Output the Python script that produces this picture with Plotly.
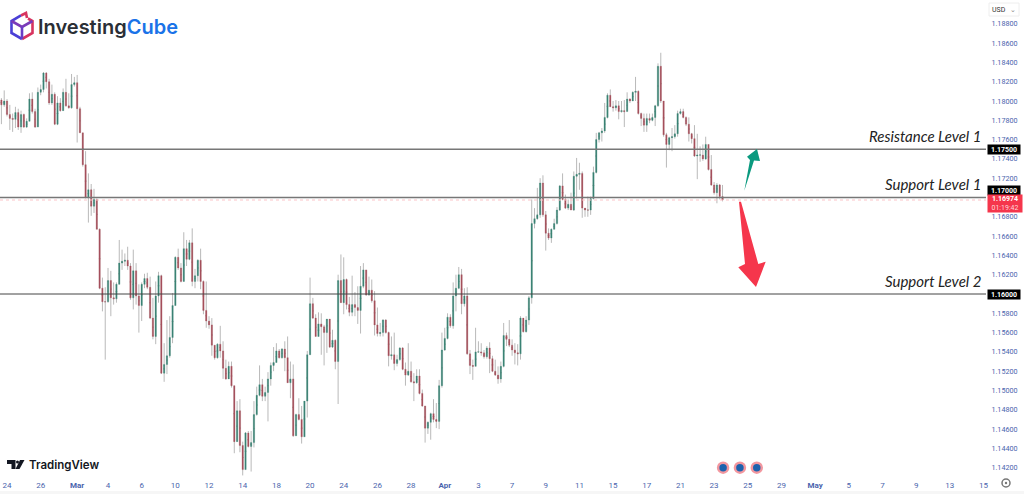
import plotly.graph_objects as go

# 4-hour EUR/USD candles (open of a bar = close of the one before, bodies connect)
first_open = 1.1801
closes = [1.1796,1.1800,1.1786,1.1782,1.1781,1.1788,1.1773,1.1786,1.1773,1.1779,1.1802,1.1789,1.1773,1.1809,1.1812,1.1829,1.1820,1.1798,1.1807,1.1776,
1.1798,1.1790,1.1809,1.1795,1.1793,1.1817,1.1819,1.1792,1.1767,1.1734,1.1700,1.1708,1.1691,1.1698,1.1667,1.1606,1.1592,1.1592,1.1614,1.1596,
1.1595,1.1610,1.1632,1.1634,1.1635,1.1629,1.1596,1.1624,1.1598,1.1588,1.1610,1.1616,1.1607,1.1575,1.1556,1.1598,1.1619,1.1518,1.1527,1.1536,
1.1555,1.1588,1.1638,1.1627,1.1613,1.1647,1.1636,1.1653,1.1613,1.1619,1.1635,1.1613,1.1583,1.1572,1.1568,1.1547,1.1534,1.1548,1.1541,1.1523,
1.1512,1.1525,1.1505,1.1447,1.1479,1.1443,1.1418,1.1456,1.1442,1.1446,1.1475,1.1495,1.1506,1.1494,1.1498,1.1512,1.1526,1.1529,1.1541,1.1534,
1.1543,1.1534,1.1508,1.1512,1.1453,1.1475,1.1470,1.1452,1.1489,1.1537,1.1590,1.1575,1.1556,1.1569,1.1566,1.1560,1.1574,1.1545,1.1552,1.1530,
1.1614,1.1591,1.1615,1.1589,1.1581,1.1589,1.1586,1.1583,1.1608,1.1625,1.1599,1.1604,1.1593,1.1568,1.1559,1.1560,1.1573,1.1560,1.1536,1.1537,
1.1528,1.1532,1.1544,1.1522,1.1516,1.1520,1.1509,1.1508,1.1515,1.1497,1.1484,1.1461,1.1467,1.1476,1.1470,1.1468,1.1505,1.1542,1.1554,1.1576,
1.1567,1.1598,1.1606,1.1620,1.1590,1.1598,1.1538,1.1526,1.1525,1.1540,1.1540,1.1539,1.1535,1.1544,1.1533,1.1520,1.1516,1.1512,1.1525,1.1557,
1.1553,1.1547,1.1542,1.1539,1.1538,1.1575,1.1561,1.1573,1.1596,1.1673,1.1678,1.1682,1.1715,1.1682,1.1663,1.1658,1.1667,1.1673,1.1687,1.1712,
1.1698,1.1689,1.1693,1.1687,1.1722,1.1724,1.1725,1.1689,1.1687,1.1687,1.1699,1.1726,1.1760,1.1767,1.1769,1.1783,1.1806,1.1794,1.1793,1.1795,
1.1789,1.1790,1.1789,1.1802,1.1800,1.1809,1.1810,1.1787,1.1782,1.1775,1.1782,1.1780,1.1783,1.1795,1.1836,1.1800,1.1765,1.1755,1.1762,1.1763,
1.1766,1.1787,1.1789,1.1783,1.1776,1.1766,1.1761,1.1743,1.1744,1.1744,1.1740,1.1755,1.1729,1.1713,1.1705,1.1713,1.1701,1.16974]
highs = [1.1803,1.1811,1.1802,1.1796,1.1787,1.1794,1.1792,1.1790,1.1787,1.1782,1.1808,1.1809,1.1792,1.1814,1.1817,1.1830,1.1830,1.1823,1.1817,1.1809,
1.1805,1.1803,1.1813,1.1823,1.1808,1.1828,1.1825,1.1827,1.1794,1.1767,1.1748,1.1725,1.1714,1.1709,1.1699,1.1668,1.1617,1.1607,1.1627,1.1624,
1.1612,1.1612,1.1656,1.1646,1.1642,1.1649,1.1632,1.1646,1.1632,1.1610,1.1612,1.1621,1.1622,1.1618,1.1596,1.1613,1.1623,1.1620,1.1549,1.1573,
1.1577,1.1601,1.1639,1.1647,1.1632,1.1664,1.1656,1.1656,1.1668,1.1626,1.1636,1.1647,1.1614,1.1613,1.1577,1.1575,1.1547,1.1549,1.1567,1.1551,
1.1532,1.1530,1.1530,1.1505,1.1489,1.1491,1.1447,1.1457,1.1458,1.1458,1.1489,1.1504,1.1526,1.1512,1.1504,1.1519,1.1529,1.1545,1.1549,1.1543,
1.1544,1.1551,1.1556,1.1530,1.1527,1.1476,1.1492,1.1484,1.1489,1.1541,1.1617,1.1596,1.1579,1.1581,1.1580,1.1568,1.1574,1.1574,1.1563,1.1553,
1.1620,1.1641,1.1638,1.1616,1.1597,1.1619,1.1602,1.1608,1.1629,1.1632,1.1625,1.1618,1.1615,1.1603,1.1586,1.1570,1.1574,1.1574,1.1561,1.1556,
1.1560,1.1537,1.1545,1.1545,1.1529,1.1549,1.1530,1.1518,1.1522,1.1522,1.1501,1.1484,1.1468,1.1477,1.1491,1.1487,1.1511,1.1560,1.1565,1.1580,
1.1579,1.1612,1.1620,1.1628,1.1626,1.1606,1.1607,1.1542,1.1532,1.1565,1.1551,1.1549,1.1542,1.1546,1.1550,1.1536,1.1532,1.1525,1.1530,1.1570,
1.1560,1.1573,1.1553,1.1549,1.1548,1.1577,1.1575,1.1577,1.1598,1.1698,1.1689,1.1710,1.1720,1.1723,1.1686,1.1668,1.1668,1.1678,1.1690,1.1713,
1.1725,1.1703,1.1698,1.1705,1.1727,1.1741,1.1736,1.1727,1.1689,1.1701,1.1701,1.1732,1.1767,1.1768,1.1772,1.1798,1.1808,1.1812,1.1800,1.1801,
1.1800,1.1800,1.1801,1.1809,1.1803,1.1810,1.1825,1.1811,1.1788,1.1787,1.1787,1.1787,1.1787,1.1796,1.1839,1.1850,1.1800,1.1767,1.1763,1.1772,
1.1775,1.1790,1.1792,1.1792,1.1784,1.1783,1.1767,1.1775,1.1766,1.1753,1.1755,1.1763,1.1755,1.1744,1.1716,1.1715,1.1714,1.1713]
lows = [1.1776,1.1794,1.1784,1.1770,1.1768,1.1772,1.1770,1.1767,1.1772,1.1772,1.1779,1.1787,1.1772,1.1774,1.1806,1.1809,1.1813,1.1796,1.1796,1.1775,
1.1775,1.1789,1.1790,1.1794,1.1792,1.1792,1.1815,1.1757,1.1767,1.1732,1.1699,1.1674,1.1681,1.1684,1.1667,1.1605,1.1582,1.1532,1.1591,1.1577,
1.1589,1.1591,1.1610,1.1625,1.1629,1.1625,1.1594,1.1584,1.1589,1.1560,1.1572,1.1606,1.1605,1.1574,1.1553,1.1548,1.1591,1.1517,1.1509,1.1517,
1.1534,1.1549,1.1588,1.1625,1.1612,1.1613,1.1629,1.1635,1.1608,1.1606,1.1613,1.1605,1.1579,1.1565,1.1564,1.1536,1.1532,1.1533,1.1534,1.1512,
1.1511,1.1512,1.1503,1.1435,1.1447,1.1436,1.1412,1.1418,1.1441,1.1416,1.1441,1.1474,1.1494,1.1489,1.1489,1.1468,1.1505,1.1520,1.1529,1.1533,
1.1533,1.1520,1.1508,1.1492,1.1452,1.1453,1.1469,1.1445,1.1452,1.1472,1.1537,1.1574,1.1556,1.1556,1.1537,1.1526,1.1539,1.1544,1.1544,1.1522,
1.1486,1.1591,1.1579,1.1584,1.1577,1.1577,1.1577,1.1569,1.1559,1.1606,1.1598,1.1598,1.1591,1.1557,1.1556,1.1556,1.1556,1.1559,1.1525,1.1532,
1.1521,1.1525,1.1531,1.1521,1.1505,1.1515,1.1508,1.1489,1.1507,1.1496,1.1483,1.1446,1.1455,1.1449,1.1467,1.1461,1.1460,1.1503,1.1541,1.1553,
1.1565,1.1564,1.1582,1.1605,1.1579,1.1587,1.1537,1.1517,1.1511,1.1525,1.1539,1.1536,1.1533,1.1533,1.1518,1.1519,1.1515,1.1507,1.1508,1.1524,
1.1546,1.1545,1.1536,1.1527,1.1526,1.1532,1.1560,1.1560,1.1568,1.1590,1.1668,1.1677,1.1679,1.1680,1.1645,1.1656,1.1653,1.1667,1.1672,1.1686,
1.1697,1.1688,1.1687,1.1687,1.1686,1.1699,1.1708,1.1679,1.1680,1.1680,1.1682,1.1698,1.1725,1.1757,1.1758,1.1767,1.1782,1.1794,1.1789,1.1790,
1.1781,1.1788,1.1773,1.1789,1.1798,1.1800,1.1800,1.1786,1.1774,1.1768,1.1768,1.1777,1.1779,1.1774,1.1794,1.1798,1.1763,1.1731,1.1749,1.1748,
1.1761,1.1763,1.1786,1.1782,1.1774,1.1758,1.1756,1.1742,1.1719,1.1737,1.1738,1.1739,1.1728,1.1712,1.1703,1.1694,1.1698,1.1696]
opens = [first_open] + closes[:-1]
bars = list(range(len(closes)))

price_ticks = [1.142,1.144,1.146,1.148,1.150,1.152,1.154,1.156,1.158,1.162,1.164,1.166,1.168,1.172,1.174,1.176,1.178,1.180,1.182,1.184,1.186,1.188]
date_labels = ["24","26","<b>Mar</b>","4","6","10","12","14","18","20","24","26","28","<b>Apr</b>","3","7","9","11","15","17","21","23","25","29","<b>May</b>","5","7","9","13","15"]
date_bars = [2,14,27,38,50,62,74,86,98,110,122,134,146,158,170,182,194,206,218,230,242,254,266,278,290,302,314,326,338,350]
levels = [1.175, 1.17, 1.16]
level_names = ["Resistance Level 1", "Support Level 1", "Support Level 2"]
level_tags = ["1.17500", "1.17000", "1.16000"]
tag_shifts = [0, 7.5, 0]
last_price = 1.16974
event_bars = [257.2, 263.2, 269.2]
event_prices = [1.1420, 1.1420, 1.1420]

W, H = 986.0, 476.0
def P(x, y):
    return x / W, 1 - y / H
def path(points):
    out = []
    for i, (x, y) in enumerate(points):
        a, b = P(x, y)
        out.append(("M" if i == 0 else "L") + f"{a:.5f},{b:.5f}")
    return " ".join(out) + " Z"
def poly(points, color):
    return dict(type="path", xref="paper", yref="paper", path=path(points), fillcolor=color, line=dict(width=0), layer="above")
def stroke(points, color, width=2.6):
    s = []
    for i, (x, y) in enumerate(points):
        a, b = P(x, y)
        s.append(("M" if i == 0 else "L") + f"{a:.5f},{b:.5f}")
    return dict(type="path", xref="paper", yref="paper", path=" ".join(s), line=dict(color=color, width=width), layer="above")

UP, DOWN, WICK = "#3b8375", "#a5505c", "#b9b9b9"
mids = [(o + c) / 2 for o, c in zip(opens, closes)]
fig = go.Figure()
fig.add_trace(go.Candlestick(x=bars, open=mids, high=highs, low=lows, close=mids, hoverinfo="skip", showlegend=False,
    increasing=dict(line=dict(color=WICK, width=1), fillcolor=WICK), decreasing=dict(line=dict(color=WICK, width=1), fillcolor=WICK)))
fig.add_trace(go.Candlestick(x=bars, open=opens, close=closes,
    high=[max(o, c) for o, c in zip(opens, closes)], low=[min(o, c) for o, c in zip(opens, closes)], hoverinfo="skip", showlegend=False,
    increasing=dict(line=dict(color=UP, width=0.3), fillcolor=UP), decreasing=dict(line=dict(color=DOWN, width=0.3), fillcolor=DOWN)))
fig.add_trace(go.Scatter(x=event_bars, y=event_prices, mode="markers", hoverinfo="skip", showlegend=False,
    marker=dict(size=10, color="#1d62ad", line=dict(color="#f2979f", width=2.5))))

shapes = []
for v, col, wid in zip(levels, ("#777777", "#777777", "#444444"), (1.5, 1.5, 1)):
    shapes.append(dict(type="line", xref="paper", yref="y", x0=0, x1=1, y0=v, y1=v, line=dict(color=col, width=wid), layer="above"))
shapes.append(dict(type="line", xref="paper", yref="y", x0=0, x1=1, y0=last_price, y1=last_price, line=dict(color="#fbc4c8", width=1, dash="dot")))
# drawn arrows
shapes.append(poly([(744.3,190.7),(750,160),(747,156.7),(757,149),(760,161),(754,160.5)], "#0a9a7f"))
shapes.append(poly([(739,201.7),(745,264),(738.3,267.3),(756,287),(765.7,261.7),(758.3,264),(741,201.7)], "#f5364c"))
# InvestingCube cube icon
shapes.append(stroke([(21,15.5),(11.5,21),(11.5,33),(22,39)], "#4a3fd6"))
shapes.append(stroke([(22,39),(32.5,33),(32.5,21),(28,18.5)], "#d8345f"))
shapes.append(stroke([(11.5,21),(22,27),(32.5,21)], "#7a3ab8"))
shapes.append(stroke([(22,27),(22,39)], "#6a3cc6"))
shapes.append(stroke([(21,15.5),(26,13),(27,18)], "#d8345f"))
# TradingView mark
shapes.append(poly([(7,460),(15.5,460),(15.5,469),(11.5,469),(11.5,464),(7,464)], "#131722"))
shapes.append(poly([(20,460),(24.5,460),(19.5,469),(15.5,469)], "#131722"))
shapes.append(dict(type="circle", xref="paper", yref="paper", x0=P(16,0)[0], x1=P(19,0)[0], y0=P(0,463.5)[1], y1=P(0,460.5)[1], fillcolor="#131722", line=dict(width=0), layer="above"))
# footer strip and settings icon
shapes.append(dict(type="rect", xref="paper", yref="paper", x0=0, x1=1024/W, y0=P(0,494)[1], y1=P(0,491)[1], fillcolor="#f6f6f6", line=dict(width=0)))
shapes.append(dict(type="circle", xref="paper", yref="paper", x0=P(1002,0)[0], x1=P(1010,0)[0], y0=P(0,487)[1], y1=P(0,479)[1], fillcolor="#ffffff", line=dict(color="#777777", width=1.5), layer="above"))
shapes.append(dict(type="circle", xref="paper", yref="paper", x0=P(1004.8,0)[0], x1=P(1007.2,0)[0], y0=P(0,484.2)[1], y1=P(0,481.8)[1], fillcolor="#777777", line=dict(width=0), layer="above"))
# USD box
shapes.append(dict(type="rect", xref="paper", yref="paper", x0=P(989,0)[0], x1=P(1019,0)[0], y0=P(0,16)[1], y1=P(0,3)[1], fillcolor="#ffffff", line=dict(color="#eeeeee", width=1), layer="above"))

ann = []
for v, name, tag, ts in zip(levels, level_names, level_tags, tag_shifts):
    ann.append(dict(xref="paper", yref="y", x=983/W, y=v, text=name, showarrow=False, xanchor="right", yanchor="bottom", yshift=2.5,
                    font=dict(family="Lato", size=15, color="#222222", style="italic")))
    ann.append(dict(xref="paper", yref="y", x=1004/W, xanchor="center", y=v, yshift=ts, text=f"<b>{tag}</b>", showarrow=False, bgcolor="#000000", borderpad=0, width=32, height=9,
                    font=dict(family="Roboto", size=7, color="#ffffff")))
ann.append(dict(xref="paper", yref="y", x=1005/W, xanchor="center", y=last_price, yshift=-3.5, text='<b>1.16974</b><br><span style="color:#ffd5d8">01:19:42</span>', showarrow=False, bgcolor="#f5364c", width=34, height=17, borderpad=0,
                font=dict(family="Roboto", size=7, color="#ffffff")))
ann.append(dict(xref="paper", yref="paper", x=35.5/W, y=P(0,27)[1], text='Investing<span style="color:#1a73e8">Cube</span>', showarrow=False, xanchor="left", yanchor="middle",
                font=dict(family="Inter", size=20, color="#2a2e35", weight=600)))
ann.append(dict(xref="paper", yref="paper", x=26.5/W, y=P(0,464.5)[1], text="TradingView", showarrow=False, xanchor="left", yanchor="middle",
                font=dict(family="Inter", size=11.5, color="#131722", weight=600)))
ann.append(dict(xref="paper", yref="paper", x=990/W, y=P(0,9.5)[1], text="USD", showarrow=False, xanchor="left", yanchor="middle",
                font=dict(family="Roboto", size=7, color="#333333")))
ann.append(dict(xref="paper", yref="paper", x=1018/W, y=P(0,9.5)[1], text="⌄", showarrow=False, xanchor="right", yanchor="middle",
                font=dict(family="DejaVu Sans", size=7, color="#888888")))

TICK = "#4a64ad"
fig.update_layout(width=1024, height=494, margin=dict(l=0, r=38, t=0, b=18, autoexpand=False), paper_bgcolor="#ffffff", plot_bgcolor="#ffffff",
    shapes=shapes, annotations=ann, showlegend=False,
    xaxis=dict(range=[-0.5, 350.9], tickmode="array", tickvals=date_bars, ticktext=date_labels, rangeslider=dict(visible=False),
               showgrid=False, zeroline=False, showline=False, ticks="outside", ticklen=1, tickcolor="#ffffff", tickangle=0,
               tickfont=dict(family="Roboto", size=8, color=TICK)),
    yaxis=dict(range=[1.16 - 182 * 0.00010363, 1.16 + 294 * 0.00010363], side="right", tickmode="array", tickvals=price_ticks,
               ticktext=[f"{v:.5f}" for v in price_ticks], showgrid=False, zeroline=False, showline=False, ticks="outside", ticklen=3, tickcolor="#ffffff",
               tickfont=dict(family="Roboto", size=7.2, color=TICK)))
fig.write_html("out.html", config=dict(displayModeBar=False), post_script="document.body.style.margin='0';document.documentElement.style.overflow='hidden';")
